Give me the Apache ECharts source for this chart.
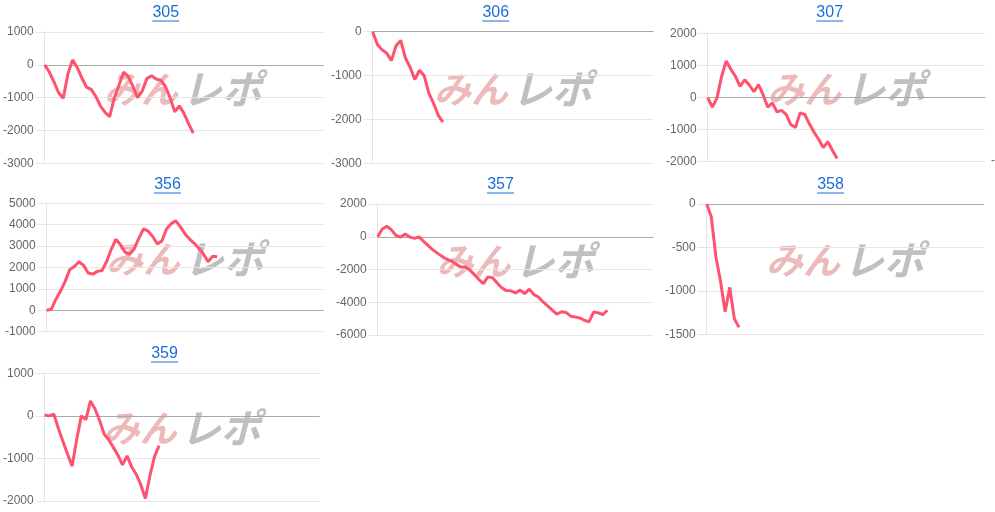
<!DOCTYPE html>
<html>
<head>
<meta charset="utf-8">
<script src="https://cdn.jsdelivr.net/npm/echarts@6/dist/echarts.min.js"></script>
<style>
html,body{margin:0;padding:0;background:#fff;}
#chart{width:995px;height:512px;}
</style>
</head>
<body>
<div id="chart"></div>
<script>
// ---- data ----
const panelNames = ['305', '306', '307', '356', '357', '358', '359'];
const slotCount = 61;
const categories = Array.from({length: slotCount}, (_, i) => String(i + 1));

const s305 = [0,-220,-520,-850,-1020,-280,150,-80,-400,-680,-750,-960,-1250,-1450,-1580,-1000,-620,-220,-350,-660,-1000,-800,-420,-330,-430,-470,-660,-1000,-1430,-1250,-1480,-1800,-2080];
const s306 = [0,-290,-410,-490,-660,-320,-200,-600,-810,-1090,-880,-1000,-1400,-1630,-1900,-2060];
const s307 = [0,-300,-20,650,1140,880,660,350,550,390,180,400,80,-300,-170,-450,-400,-530,-850,-930,-480,-530,-820,-1080,-1300,-1560,-1380,-1650,-1900];
const s356 = [0,50,520,900,1350,1900,2050,2270,2100,1740,1690,1820,1860,2280,2850,3320,3060,2720,2620,2880,3370,3800,3700,3450,3100,3250,3800,4050,4180,3900,3570,3330,3130,2900,2630,2270,2530,2500];
const s357 = [0,470,640,420,80,-20,160,-20,-100,-10,-280,-540,-800,-1000,-1200,-1370,-1470,-1660,-1840,-1840,-2020,-2300,-2600,-2860,-2450,-2500,-2820,-3120,-3290,-3300,-3430,-3260,-3470,-3200,-3530,-3680,-3980,-4220,-4480,-4720,-4580,-4620,-4850,-4900,-4960,-5100,-5200,-4600,-4650,-4750,-4490];
const s358 = [0,-150,-610,-890,-1240,-960,-1320,-1420];
const s359 = [20,0,40,-300,-600,-900,-1180,-550,0,-90,350,160,-110,-430,-560,-740,-920,-1150,-940,-1200,-1370,-1620,-1940,-1400,-950,-700];
const seriesData = [s305, s306, s307, s356, s357, s358, s359];

// y axis ranges (tick labels)
const yMin = [-3000, -3000, -2000, -1000, -6000, -1500, -2000];
const yMax = [1000, 0, 2000, 5000, 2000, 0, 1000];
const yStep = [1000, 1000, 1000, 1000, 2000, 500, 1000];

// ---- layout ----
const boxes = [
  {l: 42.7, r: 323.3, t: 32, b: 163.3, tx: 165.8, ty: 5},
  {l: 372.7, r: 653.3, t: 31.7, b: 163.3, tx: 495.8, ty: 5},
  {l: 707.7, r: 985, t: 33.3, b: 161.7, tx: 829.7, ty: 5},
  {l: 46.7, r: 323.3, t: 203.3, b: 331.7, tx: 167.5, ty: 177},
  {l: 377.7, r: 653.3, t: 204, b: 335, tx: 500.5, ty: 177},
  {l: 706.7, r: 983.3, t: 204, b: 334.3, tx: 830.5, ty: 177},
  {l: 44.3, r: 319.3, t: 373.3, b: 501, tx: 164.5, ty: 346}
];
const lineColor = 'rgb(255,82,110)';
const linkColor = '#1a6fd6';

const grids = [], xAxes = [], yAxes = [], series = [], titles = [], graphics = [];
boxes.forEach((b, i) => {
  grids.push({left: b.l, top: b.t, width: b.r - b.l, height: b.b - b.t, containLabel: false});
  xAxes.push({
    type: 'category', gridIndex: i, data: categories, boundaryGap: false,
    axisLine: {show: true, onZero: true, lineStyle: {color: '#a9a9a9', width: 1}},
    axisTick: {show: false}, axisLabel: {show: false}, splitLine: {show: false}
  });
  yAxes.push({
    type: 'value', gridIndex: i, min: yMin[i], max: yMax[i], interval: yStep[i],
    axisLine: {show: true, lineStyle: {color: '#e4e4e4'}},
    axisTick: {show: true, length: 9, lineStyle: {color: '#e4e4e4'}},
    axisLabel: {color: '#666', fontSize: 12, fontFamily: 'Liberation Sans, Arial, sans-serif', margin: 11,
      formatter: v => String(v)},
    splitLine: {show: true, lineStyle: {color: '#e6e6e6', width: 1}}
  });
  series.push({
    type: 'line', xAxisIndex: i, yAxisIndex: i, data: seriesData[i],
    symbol: 'none', smooth: false, z: 5,
    lineStyle: {color: lineColor, width: 3}
  });
  titles.push({
    text: panelNames[i], left: b.tx, top: b.ty, textAlign: 'center', padding: 0,
    textStyle: {color: linkColor, fontSize: 16, fontWeight: 'normal', fontFamily: 'Liberation Sans, Arial, sans-serif'}
  });
  graphics.push({
    type: 'line', shape: {x1: b.tx - 13.5, y1: b.ty + 16, x2: b.tx + 13.5, y2: b.ty + 16},
    style: {stroke: linkColor, lineWidth: 1}, z: 10
  });
  const cx = (b.l + b.r) / 2 - 1, cy = (b.t + b.b) / 2 - 9;
  graphics.push({
    type: 'text', x: cx - 4, y: cy, z: 0, zlevel: 0,
    style: {text: 'みん', fill: '#ecbaba', font: 'italic bold 37px "Noto Sans CJK JP"', textAlign: 'right', textVerticalAlign: 'middle'}
  });
  graphics.push({
    type: 'text', x: cx + 0, y: cy, z: 0, zlevel: 0,
    style: {text: 'レポ', fill: '#c0c0c0', font: 'italic bold 40px "Noto Sans CJK JP"', textAlign: 'left', textVerticalAlign: 'middle'}
  });
});
graphics.push({type: 'text', x: 991, y: 161, style: {text: '-', fill: '#666', font: '12px "Liberation Sans"', textVerticalAlign: 'middle'}});

const chart = echarts.init(document.getElementById('chart'), null, {renderer: 'canvas'});
chart.setOption({
  animation: false,
  backgroundColor: '#fff',
  title: titles,
  grid: grids,
  xAxis: xAxes,
  yAxis: yAxes,
  series: series,
  graphic: {elements: graphics}
});
</script>
</body>
</html>
